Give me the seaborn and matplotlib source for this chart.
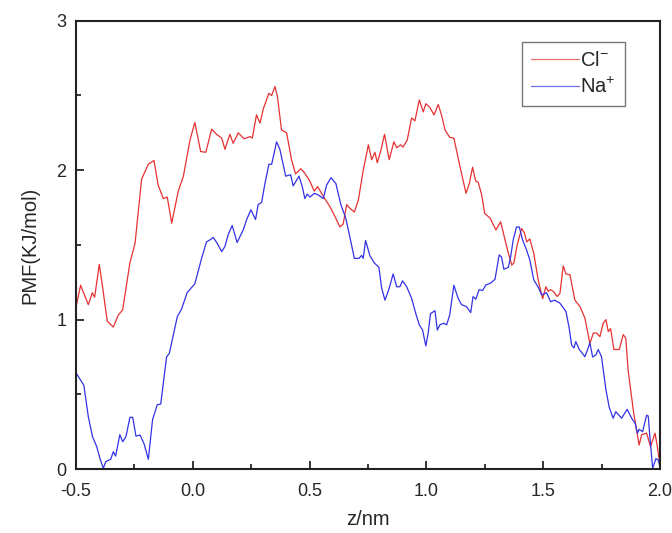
import numpy as np
import pandas as pd
import seaborn as sns
import matplotlib.pyplot as plt
from matplotlib.ticker import MultipleLocator

# PMF curves (z in nm, PMF in KJ/mol)
cl_z = [-0.5, -0.48, -0.447, -0.43, -0.42, -0.40, -0.386, -0.366, -0.34, -0.319, -0.30,
        -0.269, -0.247, -0.219, -0.19, -0.166, -0.148, -0.126, -0.109, -0.09, -0.062,
        -0.04, -0.012, 0.009, 0.034, 0.056, 0.081, 0.102, 0.124, 0.138, 0.159, 0.173,
        0.195, 0.22, 0.245, 0.255, 0.273, 0.288, 0.302, 0.326, 0.338, 0.352, 0.363,
        0.38, 0.402, 0.423, 0.44, 0.463, 0.48, 0.502, 0.52, 0.535, 0.559, 0.587, 0.609,
        0.63, 0.644, 0.659, 0.673, 0.692, 0.709, 0.73, 0.752, 0.766, 0.78, 0.79, 0.805,
        0.821, 0.841, 0.861, 0.873, 0.89, 0.90, 0.918, 0.937, 0.951, 0.97, 0.987, 0.998,
        1.015, 1.033, 1.051, 1.065, 1.08, 1.10, 1.118, 1.144, 1.17, 1.184, 1.198, 1.212,
        1.222, 1.237, 1.25, 1.273, 1.298, 1.318, 1.337, 1.351, 1.366, 1.375, 1.389,
        1.408, 1.42, 1.43, 1.443, 1.46, 1.479, 1.498, 1.512, 1.522, 1.532, 1.543, 1.56,
        1.572, 1.586, 1.598, 1.615, 1.636, 1.658, 1.679, 1.70, 1.715, 1.729, 1.743,
        1.757, 1.769, 1.779, 1.789, 1.803, 1.826, 1.843, 1.854, 1.864, 1.886, 1.90,
        1.911, 1.922, 1.943, 1.96, 1.979, 1.989, 2.0]
cl_pmf = [1.08, 1.23, 1.10, 1.18, 1.15, 1.37, 1.22, 0.99, 0.95, 1.03, 1.065,
          1.38, 1.51, 1.94, 2.04, 2.065, 1.90, 1.81, 1.82, 1.645, 1.86,
          1.96, 2.20, 2.32, 2.125, 2.12, 2.275, 2.24, 2.215, 2.14, 2.24, 2.18,
          2.25, 2.21, 2.225, 2.215, 2.37, 2.315, 2.41, 2.515, 2.50, 2.56, 2.49,
          2.27, 2.25, 2.07, 1.975, 2.01, 1.98, 1.925, 1.86, 1.89, 1.825, 1.757, 1.69,
          1.62, 1.64, 1.77, 1.745, 1.72, 1.80, 2.00, 2.17, 2.07, 2.12, 2.05, 2.13,
          2.24, 2.07, 2.19, 2.15, 2.17, 2.155, 2.20, 2.35, 2.33, 2.47, 2.39, 2.445,
          2.42, 2.37, 2.44, 2.37, 2.27, 2.22, 2.215, 2.025, 1.845, 1.91, 2.02, 1.925,
          1.92, 1.835, 1.71, 1.68, 1.60, 1.655, 1.535, 1.445, 1.365, 1.38, 1.50,
          1.61, 1.58, 1.52, 1.54, 1.445, 1.265, 1.14, 1.22, 1.19, 1.20, 1.19, 1.155,
          1.175, 1.36, 1.305, 1.30, 1.13, 1.087, 1.01, 0.84, 0.91, 0.91, 0.886,
          0.975, 1.00, 0.92, 0.94, 0.80, 0.80, 0.90, 0.875, 0.66, 0.395, 0.26,
          0.16, 0.23, 0.24, 0.15, 0.24, 0.15, 0.03]

na_z = [-0.5, -0.486, -0.466, -0.447, -0.429, -0.411, -0.397, -0.383, -0.372, -0.351,
        -0.34, -0.33, -0.312, -0.30, -0.286, -0.269, -0.257, -0.243, -0.226, -0.209,
        -0.19, -0.172, -0.152, -0.137, -0.112, -0.10, -0.066, -0.048, -0.024, 0.009,
        0.038, 0.059, 0.074, 0.088, 0.105, 0.124, 0.138, 0.152, 0.169, 0.19, 0.216,
        0.231, 0.249, 0.269, 0.28, 0.295, 0.309, 0.326, 0.338, 0.359, 0.373, 0.398,
        0.419, 0.43, 0.455, 0.469, 0.48, 0.49, 0.502, 0.52, 0.537, 0.559, 0.573, 0.592,
        0.613, 0.634, 0.655, 0.669, 0.692, 0.712, 0.723, 0.73, 0.74, 0.758, 0.777,
        0.797, 0.809, 0.823, 0.841, 0.858, 0.873, 0.887, 0.898, 0.916, 0.937, 0.955,
        0.97, 0.984, 0.998, 1.008, 1.018, 1.037, 1.047, 1.058, 1.075, 1.087, 1.10,
        1.118, 1.136, 1.151, 1.172, 1.19, 1.20, 1.212, 1.226, 1.241, 1.255, 1.275,
        1.294, 1.312, 1.322, 1.332, 1.351, 1.361, 1.372, 1.386, 1.398, 1.412, 1.429,
        1.443, 1.46, 1.479, 1.494, 1.503, 1.515, 1.532, 1.55, 1.572, 1.598, 1.612,
        1.622, 1.632, 1.64, 1.655, 1.679, 1.693, 1.70, 1.712, 1.726, 1.736, 1.75,
        1.769, 1.783, 1.80, 1.811, 1.836, 1.86, 1.879, 1.894, 1.904, 1.911, 1.926,
        1.943, 1.95, 1.957, 1.969, 1.983, 1.993, 2.0]
na_pmf = [0.645, 0.61, 0.56, 0.35, 0.216, 0.15, 0.07, 0.005, 0.05, 0.065,
          0.116, 0.087, 0.23, 0.183, 0.216, 0.346, 0.346, 0.22, 0.228, 0.172,
          0.065, 0.33, 0.43, 0.435, 0.75, 0.775, 1.02, 1.07, 1.18, 1.24,
          1.41, 1.52, 1.534, 1.55, 1.51, 1.455, 1.49, 1.57, 1.63, 1.516, 1.60,
          1.67, 1.735, 1.67, 1.77, 1.785, 1.91, 2.04, 2.04, 2.19, 2.14, 1.96,
          1.97, 1.895, 1.96, 1.89, 1.81, 1.84, 1.82, 1.845, 1.835, 1.81, 1.90, 1.95,
          1.91, 1.77, 1.68, 1.58, 1.41, 1.41, 1.43, 1.41, 1.53, 1.43, 1.38,
          1.35, 1.21, 1.13, 1.21, 1.306, 1.22, 1.22, 1.26, 1.22, 1.143, 1.04,
          0.965, 0.93, 0.824, 0.91, 1.04, 1.06, 0.93, 0.965, 0.976, 0.965, 1.03,
          1.23, 1.143, 1.10, 1.087, 1.047, 1.154, 1.137, 1.20, 1.195, 1.232, 1.244,
          1.27, 1.433, 1.42, 1.337, 1.35, 1.42, 1.534, 1.62, 1.62, 1.534, 1.467,
          1.40, 1.266, 1.217, 1.165, 1.172, 1.18, 1.12, 1.13, 1.11, 1.054, 0.94,
          0.83, 0.81, 0.853, 0.80, 0.752, 0.81, 0.846, 0.75, 0.764, 0.80, 0.752,
          0.53, 0.413, 0.34, 0.384, 0.34, 0.40, 0.34, 0.306, 0.24, 0.266, 0.25,
          0.36, 0.355, 0.216, 0.005, 0.07, 0.06, 0.015]

ions = [r'Cl$^{-}$', r'Na$^{+}$']

df = pd.concat([
    pd.DataFrame({'z': cl_z, 'pmf': cl_pmf, 'ion': ions[0]}),
    pd.DataFrame({'z': na_z, 'pmf': na_pmf, 'ion': ions[1]}),
])

sns.set_style('ticks')
plt.rcParams['font.family'] = ['Liberation Sans', 'DejaVu Sans']
plt.rcParams['mathtext.fontset'] = 'custom'
plt.rcParams['mathtext.rm'] = 'Liberation Sans'

fig = plt.figure(figsize=(6.72, 5.33), dpi=100)
ax = fig.add_axes([0.113, 0.12, 0.869, 0.841])

sns.lineplot(data=df, x='z', y='pmf', hue='ion', hue_order=ions,
             palette=['#e63232', '#3232e6'], estimator=None, sort=False,
             linewidth=0.9, ax=ax)

ax.set_xlim(-0.5, 2.0)
ax.set_ylim(0, 3)
ax.xaxis.set_minor_locator(MultipleLocator(0.25))
ax.yaxis.set_major_locator(MultipleLocator(1))
ax.yaxis.set_minor_locator(MultipleLocator(0.5))
ax.set_xticks([-0.5, 0.0, 0.5, 1.0, 1.5, 2.0])
ax.set_xticklabels(['-0.5', '0.0', '0.5', '1.0', '1.5', '2.0'])
ax.tick_params(which='major', direction='in', length=6, width=1.3, labelsize=13)
ax.tick_params(axis='x', which='major', pad=10)
ax.tick_params(axis='y', which='major', pad=7)
ax.tick_params(which='minor', direction='in', length=3.5, width=1.3)
for s in ax.spines.values():
    s.set_linewidth(1.5)
    s.set_color('#222222')

ax.set_xlabel('z/nm', fontsize=14.5, labelpad=7)
ax.set_ylabel('PMF(KJ/mol)', fontsize=14.5, labelpad=12)

leg = ax.legend(loc='upper right', bbox_to_anchor=(0.94, 0.953), fontsize=14.5,
                frameon=True, fancybox=False, handlelength=2.4, handletextpad=0.05,
                borderpad=0.45, labelspacing=0.35, borderaxespad=0)
leg.get_frame().set_edgecolor('#555555')
leg.get_frame().set_linewidth(1.0)
for h in leg.get_lines():
    h.set_alpha(0.7)

fig.savefig('out.png', dpi=100)
